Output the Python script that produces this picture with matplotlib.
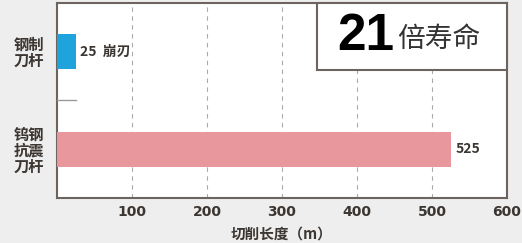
import matplotlib.pyplot as plt
from matplotlib.patches import Rectangle

plt.rcParams['font.family'] = ['Noto Sans CJK SC', 'DejaVu Sans']

# data
categories = ['钢制\n刀杆', '钨钢\n抗震\n刀杆']
values = [25, 525]
value_labels = ['25  崩刃', '525']
colors = ['#1fa3dc', '#e8979c']
xticks = [100, 200, 300, 400, 500, 600]
xlabel = '切削长度（m）'
badge_num = '21'
badge_txt = '倍寿命'

fig = plt.figure(figsize=(5.22, 2.43), dpi=100)
fig.patch.set_facecolor('#eeeeee')
ax = fig.add_axes([57 / 522, 1 - 198 / 243, 450 / 522, 195 / 243])
ax.set_facecolor('white')

ypos = [1, 0]
ax.barh(ypos, values, height=0.36, color=colors, zorder=3)

ax.set_xlim(0, 600)
ax.set_ylim(-0.495, 1.495)

# separator stub between categories
ax.plot([0, 25], [0.505, 0.505], color='#999999', lw=1, zorder=3)

for y, v, lab in zip(ypos, values, value_labels):
    ax.text(v + 6, y, lab, va='center', ha='left', fontsize=10,
            fontweight='bold', color='#3c3632', zorder=4)

ax.set_xticks(xticks)
ax.set_xticklabels([str(t) for t in xticks], fontsize=10, fontweight='bold',
                   color='#3c3632', family='DejaVu Sans')
ax.tick_params(axis='x', length=0, pad=5)
ax.set_yticks(ypos)
ax.set_yticklabels(categories, fontsize=11, fontweight='bold', color='#3c3632',
                   linespacing=1.0, ha='center')
ax.tick_params(axis='y', length=0, pad=20)

ax.grid(axis='x', linestyle=(0, (4, 4)), color='#aaaaaa', lw=0.8, zorder=1)
ax.set_xlabel(xlabel, fontsize=10.5, fontweight='bold', color='#3c3632', labelpad=5)

for s in ax.spines.values():
    s.set_color('#6e645f')
    s.set_linewidth(1.5)

# badge box in the top right
box = Rectangle((317 / 522, 1 - 70 / 243), 190 / 522, 67 / 243,
                transform=fig.transFigure, facecolor='white',
                edgecolor='#6e645f', lw=1.5, zorder=5)
fig.patches.append(box)
fig.text(366 / 522, 1 - 36 / 243, badge_num, fontsize=37, fontweight='bold',
         family='Liberation Sans', color='black', ha='center', va='center', zorder=6)
fig.text(439 / 522, 1 - 39 / 243, badge_txt, fontsize=20, color='#333333',
         ha='center', va='center', zorder=6)

fig.savefig('out.png', dpi=100, facecolor=fig.get_facecolor())
